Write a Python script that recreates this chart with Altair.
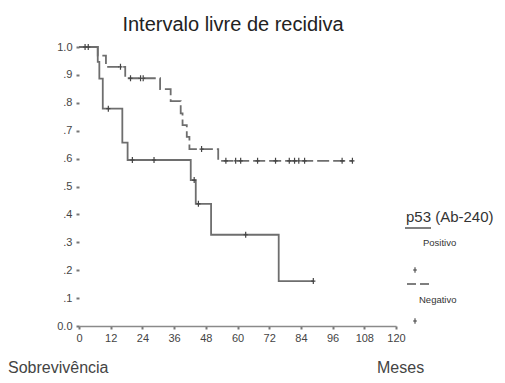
import altair as alt
import pandas as pd

# Kaplan-Meier step curves (months, survival)
pos_time = [0, 7.1, 7.7, 9.0, 16.4, 18.4, 42.3, 44.2, 50.0, 75.6, 88.7]
pos_surv = [1.0, 0.947, 0.887, 0.779, 0.657, 0.595, 0.523, 0.438, 0.327, 0.161, 0.161]

neg_time = [0, 7.1, 10.2, 17.5, 30.7, 34.7, 38.5, 39.2, 40.8, 41.8, 52.7, 103.8]
neg_surv = [1.0, 0.969, 0.929, 0.888, 0.849, 0.806, 0.762, 0.720, 0.678, 0.634, 0.592, 0.592]

# censored observations
pos_cens_time = [11.1, 20.2, 28.4, 43.6, 45.2, 63.1, 88.7]
pos_cens_surv = [0.779, 0.595, 0.595, 0.523, 0.438, 0.327, 0.161]

neg_cens_time = [2.3, 3.5, 15.7, 19.5, 23.3, 24.3, 46.4,
                 55.6, 59.3, 61.2, 67.6, 74.4, 79.6, 81.6, 83.2, 85.4, 99.6, 103.5]
neg_cens_surv = [1.0, 1.0, 0.929, 0.888, 0.888, 0.888, 0.634,
                 0.592, 0.592, 0.592, 0.592, 0.592, 0.592, 0.592, 0.592, 0.592, 0.592, 0.592]

x_ticks = list(range(0, 121, 12))
y_ticks = [round(i / 10, 1) for i in range(11)]

title_text = "Intervalo livre de recidiva"
y_title = "Sobrevivência"
x_title = "Meses"
legend_title = "p53 (Ab-240)"
legend_labels = ["Positivo", "Negativo"]

FONT = "Liberation Sans"
LINE = "#6e6e6e"
MARK = "#444444"
CROSS = "M0,-1L0,1M-0.7,0L0.7,0"

pos_df = pd.DataFrame({"t": pos_time, "s": pos_surv})
neg_df = pd.DataFrame({"t": neg_time, "s": neg_surv})
pos_c = pd.DataFrame({"t": pos_cens_time, "s": pos_cens_surv})
neg_c = pd.DataFrame({"t": neg_cens_time, "s": neg_cens_surv})

xscale = alt.Scale(domain=[0, 120], nice=False, zero=False)
yscale = alt.Scale(domain=[0, 1], nice=False)

xaxis = alt.Axis(values=x_ticks, title=None, grid=False, domainColor="#8a8a8a",
                 domainWidth=1.5, tickColor="#777", tickWidth=2, tickSize=3,
                 labelOverlap=False, labelFlush=False, labelBound=False,
                 labelFont=FONT, labelFontSize=11, labelColor="#444", labelPadding=3)
yaxis = alt.Axis(values=y_ticks, title=None, grid=False, domain=False,
                 tickColor="#777", tickWidth=2, tickSize=3,
                 labelOverlap=False, labelFlush=False, labelBound=False,
                 labelFont=FONT, labelFontSize=11, labelColor="#444", labelPadding=4,
                 labelExpr="datum.value == 1 ? '1.0' : datum.value == 0 ? '0.0' : '.' + format(datum.value*10, '.0f')")

X = alt.X("t:Q", scale=xscale, axis=xaxis)
Y = alt.Y("s:Q", scale=yscale, axis=yaxis)

pos_line = alt.Chart(pos_df).mark_line(interpolate="step-after", color=LINE,
                                       strokeWidth=1.8).encode(x=X, y=Y)
neg_line = alt.Chart(neg_df).mark_line(interpolate="step-after", color=LINE, strokeWidth=1.8,
                                       strokeDash=[12, 4]).encode(x=X, y=Y)

pos_pts = alt.Chart(pos_c).mark_point(shape=CROSS, size=36, filled=False, color=MARK,
                                      strokeWidth=1.2, opacity=1).encode(x=X, y=Y)
neg_pts = alt.Chart(neg_c).mark_point(shape=CROSS, size=36, filled=False, color=MARK,
                                      strokeWidth=1.2, opacity=1).encode(x=X, y=Y)

one = pd.DataFrame({"k": [0]})

def txt(text, x, y, size, align="left", color="#333"):
    return alt.Chart(one).mark_text(text=text, font=FONT, fontSize=size, align=align,
                                    baseline="alphabetic", color=color).encode(
        x=alt.value(x), y=alt.value(y))

title = txt(title_text, 154, -16, 20, align="center", color="#222")
ytitle = txt(y_title, -71, 326, 16, color="#444")
xtitle = txt(x_title, 298, 326, 16, color="#444")
leg_title = txt(legend_title, 327, 175, 15, color="#333")
leg_pos = txt(legend_labels[0], 344, 199, 9.5, color="#333")
leg_neg = txt(legend_labels[1], 340, 256, 9.5, color="#333")

leg_solid = alt.Chart(one).mark_rule(color="#555", strokeWidth=1.5).encode(
    x=alt.value(326), x2=alt.value(352), y=alt.value(181))
leg_dash = alt.Chart(one).mark_rule(color="#555", strokeWidth=1.5, strokeDash=[9, 4]).encode(
    x=alt.value(328), x2=alt.value(351), y=alt.value(237))
leg_plus1 = alt.Chart(one).mark_point(shape=CROSS, size=30, filled=False, color=MARK,
                                      strokeWidth=1.1, opacity=1).encode(
    x=alt.value(336), y=alt.value(223))
leg_plus2 = alt.Chart(one).mark_point(shape=CROSS, size=30, filled=False, color=MARK,
                                      strokeWidth=1.1, opacity=1).encode(
    x=alt.value(336), y=alt.value(274))

chart = alt.layer(
    pos_line, neg_line, pos_pts, neg_pts,
    title, ytitle, xtitle, leg_title, leg_pos, leg_neg,
    leg_solid, leg_dash, leg_plus1, leg_plus2,
).properties(
    width=317, height=279,
    autosize=alt.AutoSizeParams(type="none"),
    padding={"left": 71, "top": 39, "right": 101, "bottom": 49},
    background="white",
).configure_view(stroke=None).configure_axis(labelOverlap=False)

chart.save("out.html", embed_options={"renderer": "svg", "actions": False})
